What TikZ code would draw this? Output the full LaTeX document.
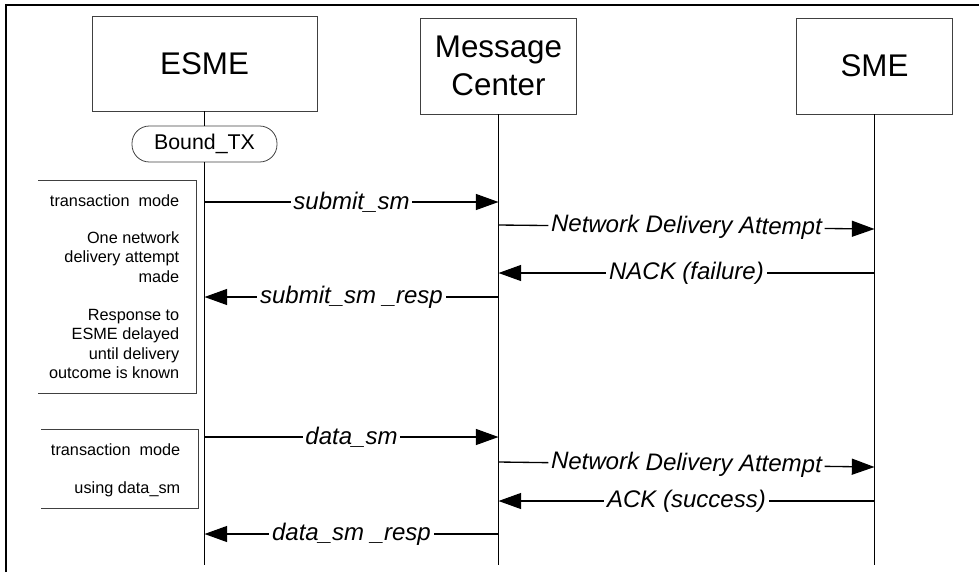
\documentclass[tikz,border=0pt]{standalone}
\usepackage{fontspec}
\setmainfont{Liberation Sans}
\usetikzlibrary{arrows.meta}

\begin{document}
\begin{tikzpicture}[x=0.75pt,y=-0.75pt,
  entity/.style={draw=black!75,line width=0.6pt,align=center,inner sep=0pt,
    font=\fontsize{23.5}{28.5}\selectfont},
  life/.style={line width=1.2pt},
  msg/.style={line width=1pt,-{Triangle[length=17pt,width=12pt]}},
  lbl/.style={fill=white,inner xsep=2pt,inner ysep=1pt,
    font=\fontsize{18}{20}\selectfont\itshape},
  note/.style={anchor=east,align=right,font=\fontsize{12.2}{14.5}\selectfont},
  bracket/.style={draw=black!75,line width=0.6pt}]
\useasboundingbox (0,0) rectangle (979,572);
\draw[line width=1.8pt] (6,572) -- (6,5) -- (979,5);

% the three parties
\node[entity,minimum width=168.75pt,minimum height=71.25pt] (esme) at (204.5,63.5) {ESME};
\node[entity,minimum width=117pt,minimum height=72pt] (mc) at (498.5,66) {Message\\Center};
\node[entity,minimum width=117pt,minimum height=72pt] (sme) at (874.5,66) {SME};

\node[draw=black!75,line width=0.6pt,rounded corners=13pt,minimum width=108.75pt,
  minimum height=27pt,inner sep=0pt,font=\fontsize{16}{19}\selectfont] (bound) at (204.5,144) {Bound\_TX};

\coordinate (esmeEnd) at (esme |- 0,565);
\coordinate (mcEnd) at (mc |- 0,565);
\coordinate (smeEnd) at (sme |- 0,565);

\draw[life] (esme.south) -- (bound.north);
\draw[life] (bound.south) -- (esmeEnd);
\draw[life] (mc.south) -- (mcEnd);
\draw[life] (sme.south) -- (smeEnd);

% submit_sm exchange
\draw[msg] (esme |- 0,202) -- node[lbl] (m1) {submit\_sm} (mc |- 0,202);
\draw[msg] (mc |- 0,225) -- node[lbl,sloped] (m2) {Network Delivery Attempt} (sme |- 0,229);
\draw[msg] (sme |- 0,273) -- node[lbl] (m3) {NACK (failure)} (mc |- 0,273);
\draw[msg] (mc |- 0,297) -- node[lbl] (m4) {submit\_sm \_resp} (esme |- 0,297);

% data_sm exchange
\draw[msg] (esme |- 0,437) -- node[lbl] (m5) {data\_sm} (mc |- 0,437);
\draw[msg] (mc |- 0,462) -- node[lbl,sloped] (m6) {Network Delivery Attempt} (sme |- 0,467);
\draw[msg] (sme |- 0,501) -- node[lbl] (m7) {ACK (success)} (mc |- 0,501);
\draw[msg] (mc |- 0,534) -- node[lbl] (m8) {data\_sm \_resp} (esme |- 0,534);

% side notes
\draw[bracket] (38,180) -- (196,180) -- (196,393) -- (38,393);
\node[note] (n1) at (184,201) {transaction\ \ mode};
\node[note] (n2) at (184,257) {One network\\delivery attempt\\made};
\node[note] (n3) at (184,344) {Response to\\ESME delayed\\until delivery\\outcome is known};

\draw[bracket] (41,429) -- (198,429) -- (198,508) -- (41,508);
\node[note] (n4) at (185,450) {transaction\ \ mode};
\node[note] (n5) at (185,489) {using data\_sm};

\end{tikzpicture}
\end{document}
